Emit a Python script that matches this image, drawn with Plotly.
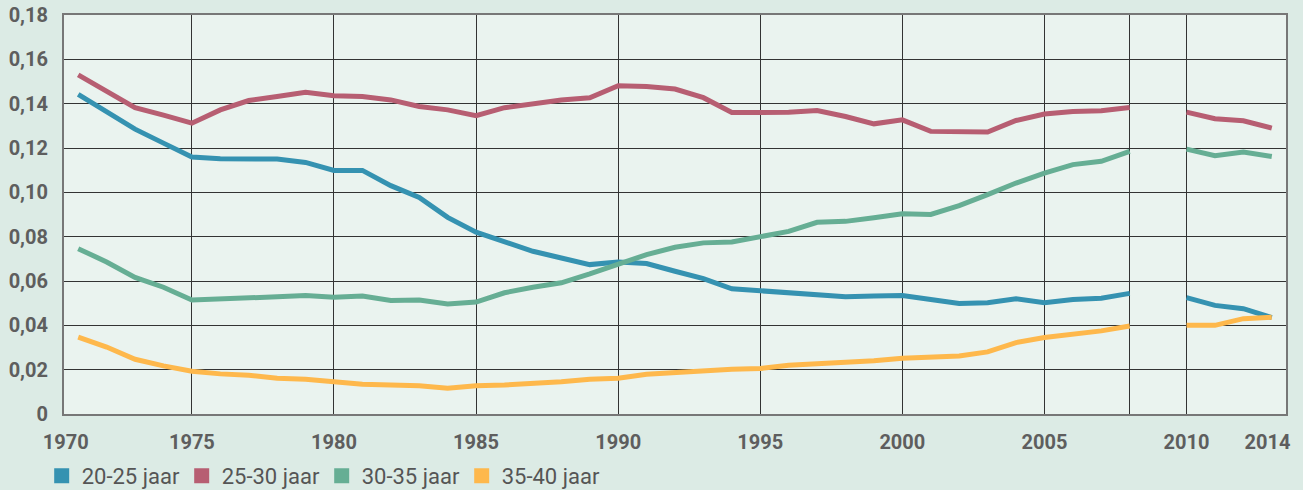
import plotly.graph_objects as go

years = list(range(1971, 2014))  # 2009 is a gap

s20_25 = [0.1442, 0.1364, 0.1285, 0.1222, 0.1159, 0.1151, 0.1148, 0.1150, 0.1135, 0.1099,
          0.1099, 0.1030, 0.0977, 0.0887, 0.0820, 0.0776, 0.0734, 0.0704, 0.0674, 0.0686,
          0.0679, 0.0644, 0.0611, 0.0565, 0.0557, 0.0550, 0.0539, 0.0529, 0.0532, 0.0535,
          0.0517, 0.0499, 0.0502, 0.0520, 0.0502, 0.0517, 0.0522, 0.0544, None,
          0.0525, 0.0490, 0.0475, 0.0435]
s25_30 = [0.1530, 0.1456, 0.1382, 0.1348, 0.1312, 0.1372, 0.1414, 0.1432, 0.1451, 0.1436,
          0.1432, 0.1417, 0.1387, 0.1372, 0.1346, 0.1382, 0.1402, 0.1417, 0.1427, 0.1481,
          0.1477, 0.1466, 0.1427, 0.1360, 0.1360, 0.1361, 0.1369, 0.1342, 0.1309, 0.1327,
          0.1275, 0.1275, 0.1272, 0.1324, 0.1353, 0.1365, 0.1368, 0.1383, None,
          0.1362, 0.1332, 0.1323, 0.1290]
s30_35 = [0.0746, 0.0686, 0.0616, 0.0572, 0.0514, 0.0518, 0.0520, 0.0529, 0.0535, 0.0527,
          0.0532, 0.0512, 0.0514, 0.0496, 0.0505, 0.0547, 0.0572, 0.0592, 0.0632, 0.0674,
          0.0719, 0.0752, 0.0772, 0.0776, 0.0802, 0.0824, 0.0865, 0.0869, 0.0885, 0.0903,
          0.0900, 0.0940, 0.0990, 0.1042, 0.1087, 0.1125, 0.1140, 0.1185, None,
          0.1195, 0.1165, 0.1182, 0.1162]
s35_40 = [0.0347, 0.0302, 0.0247, 0.0217, 0.0193, 0.0181, 0.0175, 0.0161, 0.0157, 0.0146,
          0.0134, 0.0131, 0.0127, 0.0116, 0.0127, 0.0131, 0.0136, 0.0145, 0.0157, 0.0161,
          0.0179, 0.0187, 0.0191, 0.0202, 0.0205, 0.0220, 0.0227, 0.0232, 0.0240, 0.0252,
          0.0255, 0.0262, 0.0280, 0.0322, 0.0345, 0.0360, 0.0375, 0.0397, None,
          0.0400, 0.0400, 0.0430, 0.0437]

series_names = ["20-25 jaar", "25-30 jaar", "30-35 jaar", "35-40 jaar"]
series_values = [s20_25, s25_30, s30_35, s35_40]
colors = ["#3592b1", "#b75e72", "#66ae94", "#feb84c"]

grid_years = [1975, 1980, 1985, 1990, 1995, 2000, 2005, 2008, 2010]
xlabel_text = ["1970", "1975", "1980", "1985", "1990", "1995", "2000", "2005", "2010", "2014"]
xlabel_pos = [1970.56, 1975, 1980, 1985, 1990, 1995, 2000, 2005, 2010, 2012.85]

ytick_vals = [0, 0.02, 0.04, 0.06, 0.08, 0.10, 0.12, 0.14, 0.16, 0.18]
ytick_text = ["0", "0,02", "0,04", "0,06", "0,08", "0,10", "0,12", "0,14", "0,16", "0,18"]

fig = go.Figure()
for name, vals, col in zip(series_names, series_values, colors):
    fig.add_trace(go.Scatter(x=years, y=vals, mode="lines", name=name,
                             line=dict(color=col, width=5), connectgaps=False,
                             showlegend=False, hoverinfo="x+y"))
    fig.add_trace(go.Scatter(x=[None], y=[None], mode="markers", name=name,
                             marker=dict(symbol="square", size=15, color=col),
                             showlegend=True))

# invisible trace to anchor the label axis
fig.add_trace(go.Scatter(x=[1971], y=[None], xaxis="x2", showlegend=False, hoverinfo="skip"))

xr = [1970.5, 2013.5]
tickfont = dict(family="Roboto", size=20, color="#5e5e5e", weight="bold")
fig.update_layout(
    template="none",
    width=1303, height=490,
    margin=dict(l=64, r=17, t=15, b=76, autoexpand=False),
    paper_bgcolor="#dcebe5",
    plot_bgcolor="#eaf3ef",
    font=dict(family="Roboto", color="#5e5e5e"),
    xaxis=dict(range=xr, tickvals=grid_years, showticklabels=False, showgrid=True,
               gridcolor="#333333", gridwidth=1, ticks="", zeroline=False, automargin=False,
               showline=True, linecolor="#777777", linewidth=2, mirror=True),
    xaxis2=dict(range=xr, overlaying="x", side="bottom", showgrid=False, zeroline=False,
                tickvals=xlabel_pos, ticktext=xlabel_text, ticks="outside", ticklen=10,
                tickcolor="rgba(0,0,0,0)", tickfont=tickfont, showline=False,
                automargin=False),
    yaxis=dict(range=[0, 0.18], tickvals=ytick_vals, ticktext=ytick_text,
               showgrid=True, gridcolor="#333333", gridwidth=1, zeroline=False,
               showline=True, linecolor="#777777", linewidth=2, mirror=True,
               ticks="outside", ticklen=10, tickcolor="rgba(0,0,0,0)",
               tickfont=tickfont, automargin=False),
    legend=dict(orientation="h", xref="container", yref="paper", x=0.032, y=-0.155,
                xanchor="left", yanchor="middle", entrywidth=95, itemwidth=30,
                font=dict(family="Roboto", size=22, color="#555555"),
                bgcolor="rgba(0,0,0,0)", itemclick=False),
    showlegend=True,
)

fig.write_html("out.html", config={"displayModeBar": False},
               post_script="document.body.style.margin='0px';")
